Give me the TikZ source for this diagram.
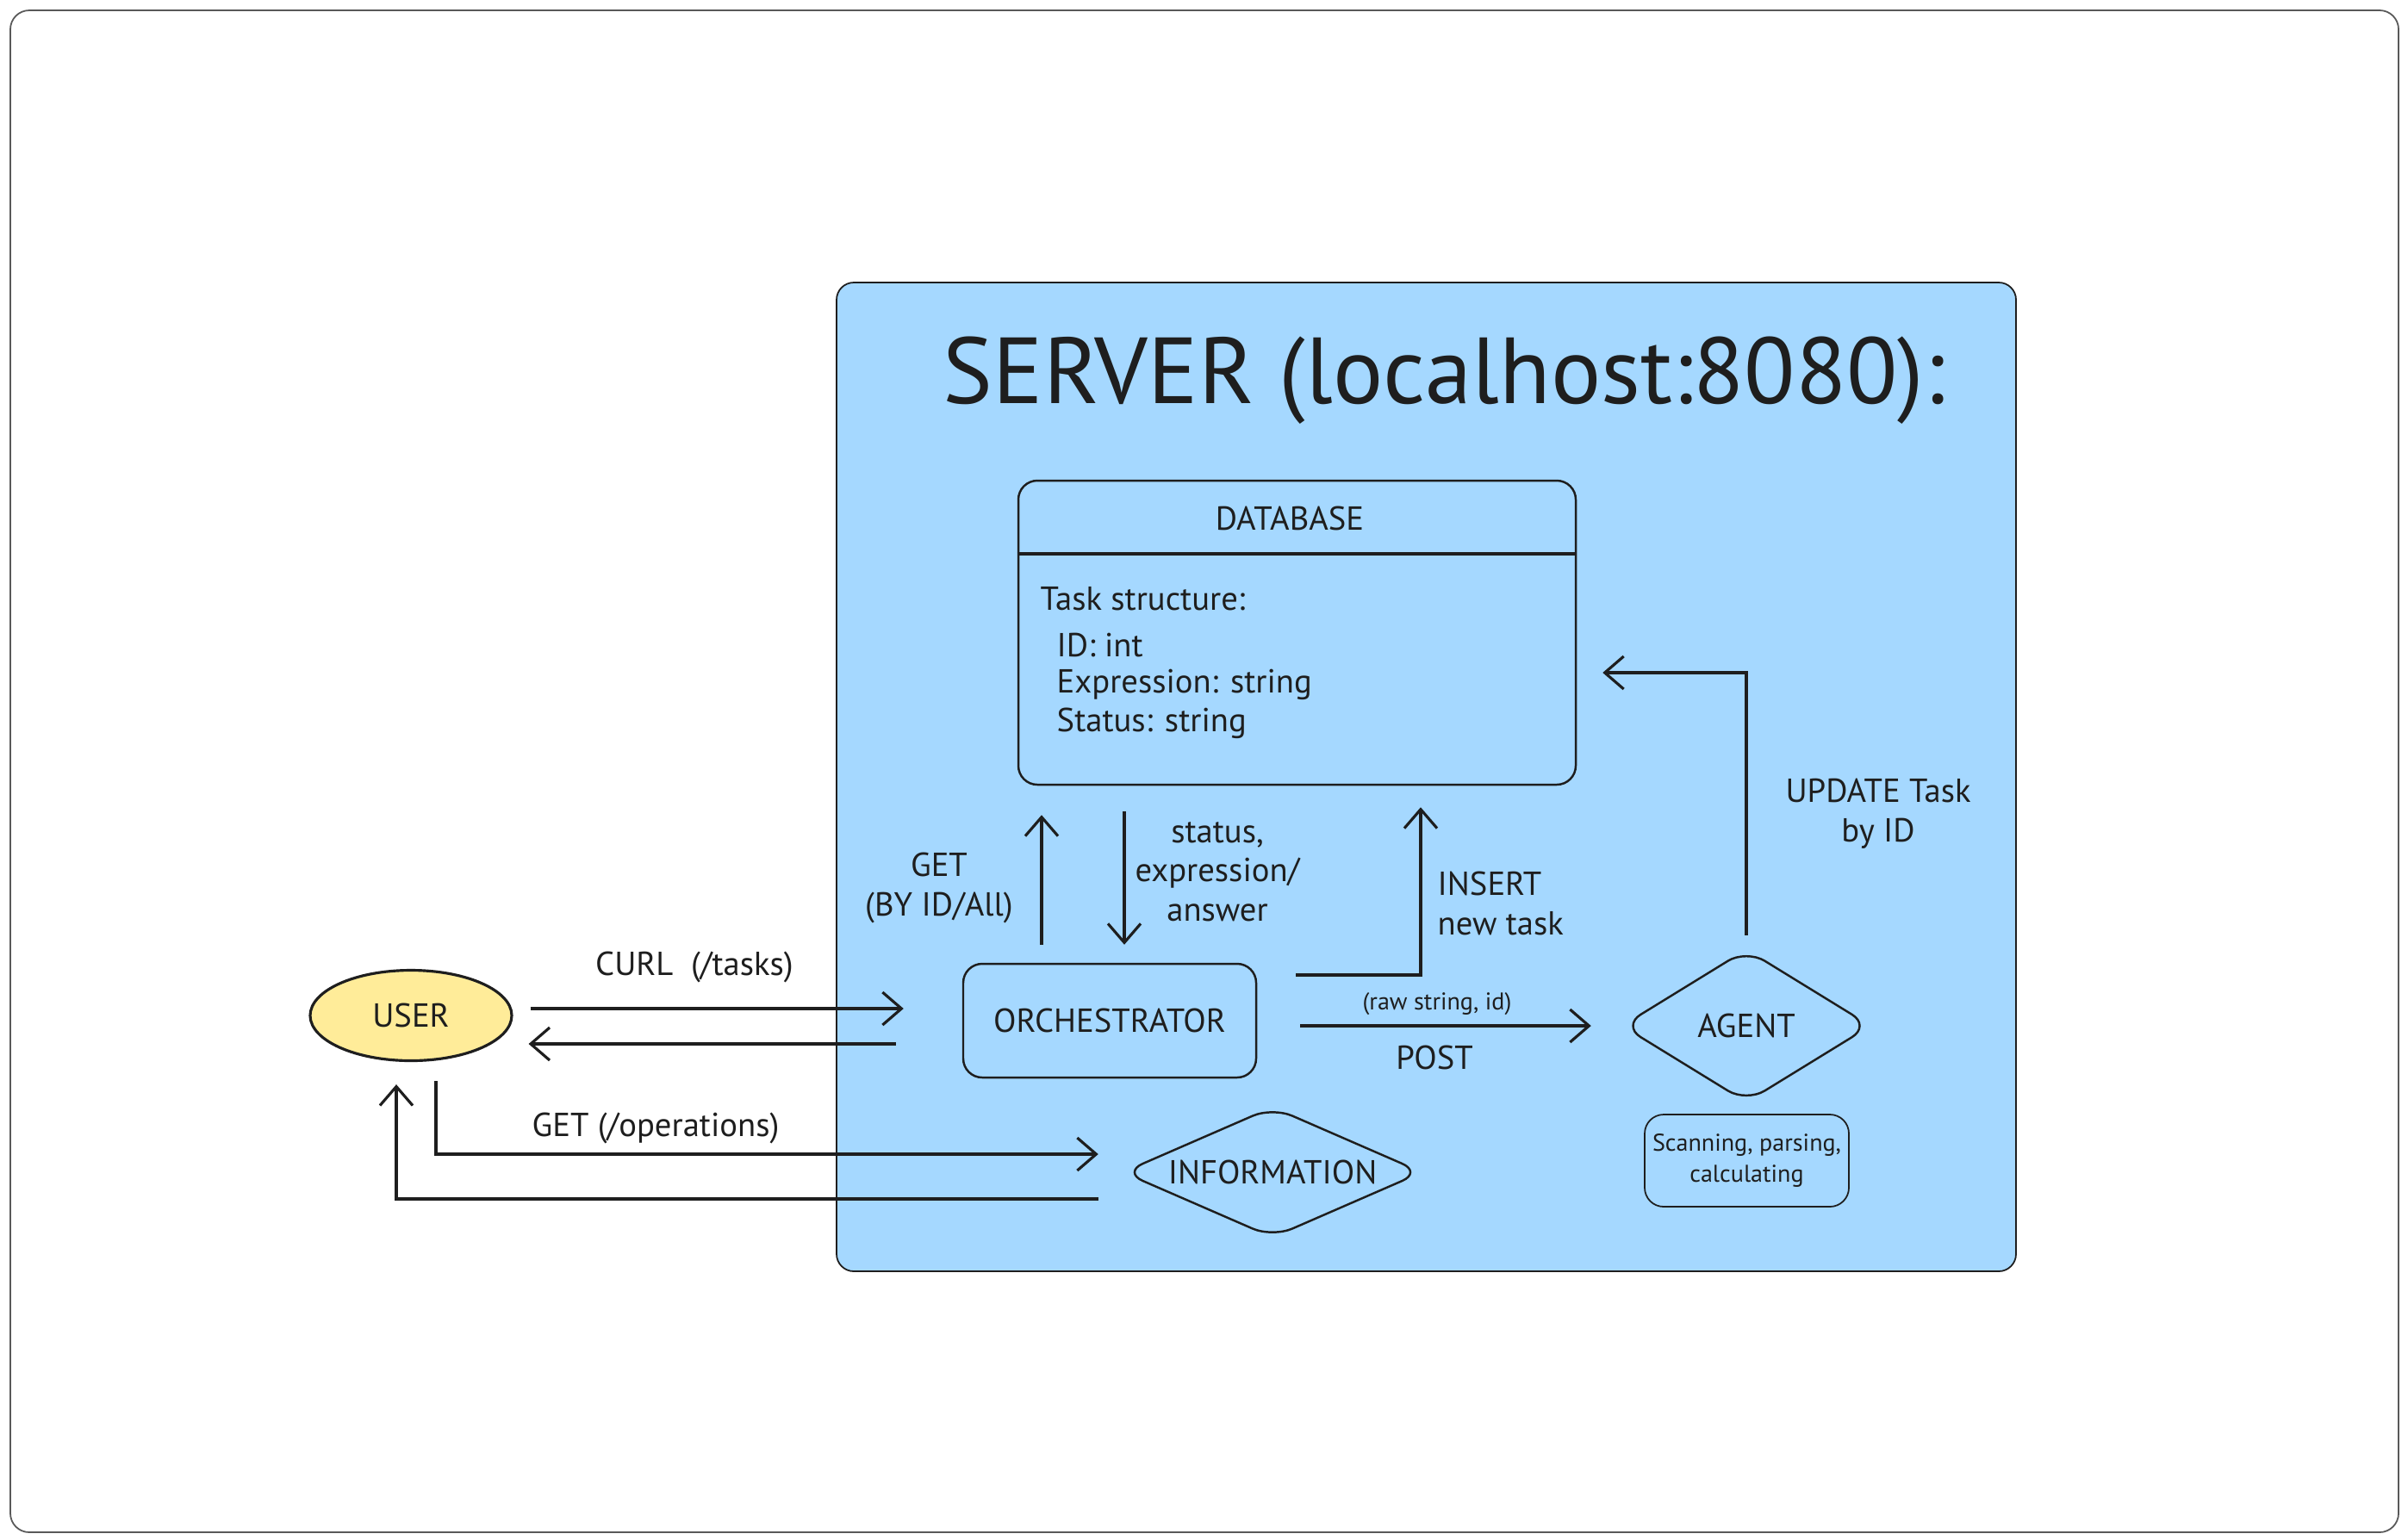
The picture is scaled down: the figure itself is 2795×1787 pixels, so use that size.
\documentclass[tikz,border=0pt]{standalone}
\usepackage{fontspec}
\setmainfont{PT Sans}
\usetikzlibrary{arrows.meta,shapes.geometric,calc}
\definecolor{ink}{HTML}{1E1E1E}
\definecolor{srvblue}{HTML}{A5D8FF}
\definecolor{usryel}{HTML}{FFEC99}
\tikzset{
  frame/.style={draw=black!65,line width=0.5pt,rounded corners=2.2mm},
  serverbox/.style={draw=ink,fill=srvblue,line width=0.5pt,rounded corners=2mm,minimum width=136.9mm,minimum height=114.8mm,inner sep=0pt},
  box/.style={draw=ink,line width=0.7pt,rounded corners=2.2mm,inner sep=0pt},
  dia/.style={draw=ink,line width=0.7pt,diamond,rounded corners=2.5mm,inner sep=0pt},
  lbl/.style={text=ink,font=\fontsize{11}{13}\selectfont,inner sep=0pt},
  small/.style={text=ink,font=\fontsize{8}{10}\selectfont,inner sep=0pt},
  arr/.style={draw=ink,line width=0.9pt,-{Straight Barb[length=2.2mm,width=3.8mm,line width=0.9pt]}},
}
\begin{document}
\begin{tikzpicture}[x=0.1mm,y=-0.1mm]
\useasboundingbox (0,0) rectangle (2795,1787);
\fill[white] (0,0) rectangle (2795,1787);
\draw[frame] (12,12) rectangle (2784,1779);

% server container
\node[serverbox] (server) at (1655.5,902) {};
\node[text=ink,font=\fontsize{31}{36}\selectfont,inner sep=0pt] (title) at (1676,442) {SERVER (localhost:8080):};

% database
\node[box,minimum width=64.7mm,minimum height=35.3mm] (db) at (1505.5,734.5) {};
\draw[ink,line width=1pt] (db.west |- 0,643) -- (db.east |- 0,643);
\node[lbl] (dbt) at (1497,602) {DATABASE};
\node[lbl,anchor=west] (f0) at (1207,695) {Task structure:};
\node[lbl,anchor=west] (f1) at (1226,749) {ID: int};
\node[lbl,anchor=west] (f2) at (1226,795) {Expression: string};
\node[lbl,anchor=west] (f3) at (1226,840) {Status: string};

% nodes
\node[box,minimum width=34mm,minimum height=13.2mm] (orch) at (1288,1185) {};
\node[lbl] (orcht) at (orch) {ORCHESTRATOR};
\node[draw=ink,fill=usryel,line width=0.9pt,ellipse,minimum width=23.4mm,minimum height=10.5mm,inner sep=0pt] (user) at (477,1179) {};
\node[lbl] (usert) at (user) {USER};
\node[dia,minimum width=28.9mm,minimum height=17.8mm] (agent) at (2027,1191) {};
\node[lbl] (agentt) at (agent) {AGENT};
\node[box,line width=0.5pt,minimum width=23.7mm,minimum height=10.7mm] (scan) at (2027.5,1347.5) {};
\node[small,align=center] (scant) at (scan) {Scanning, parsing,\\calculating};
\node[dia,minimum width=34.8mm,minimum height=15.2mm] (info) at (1477,1361) {};
\node[lbl] (infot) at (info) {INFORMATION};

% connectors
\draw[arr] ($(user.east)+(20,-8)$) -- ($(orch.west)+(-68,-14)$);
\draw[arr] ($(orch.west)+(-77,27)$) -- ($(user.east)+(18,33)$);
\draw[arr] ($(orch.north)+(-79,-21)$) -- ($(db.south)+(-296.5,34)$);
\draw[arr] ($(db.south)+(-200.5,30)$) -- ($(orch.north)+(17,-21)$);
\draw[arr] ($(orch.east)+(45,-53)$) -| ($(db.south)+(143.5,25)$);
\draw[arr] ($(orch.east)+(50,6)$) -- ($(agent.west)+(-34.5,0)$);
\draw[arr] ($(agent.north)+(0,-15)$) |- ($(db.east)+(30,46.5)$);
\draw[arr] ($(user.south)+(29,22)$) |- ($(info.west)+(-27,-21)$);
\draw[arr] ($(info.west)+(-27,31)$) -| ($(user.south)+(-17,26)$);

% labels
\node[lbl] (l1) at (806,1123) {CURL\ \ (/tasks)};
\node[lbl] (l2) at (761,1310) {GET (/operations)};
\node[lbl,align=center] (l3) at (1090,1031) {GET\\(BY ID/All)};
\node[lbl,align=center] (l4) at (1413,1012) {status,\\expression/\\answer};
\node[lbl,align=left,anchor=west] (l5) at (1668,1049) {INSERT\\new task};
\node[small] (l6) at (1668,1166) {(raw string, id)};
\node[lbl] (l7) at (1665,1228) {POST};
\node[lbl,align=center] (l8) at (2180,945) {UPDATE Task\\by ID};
\end{tikzpicture}
\end{document}
